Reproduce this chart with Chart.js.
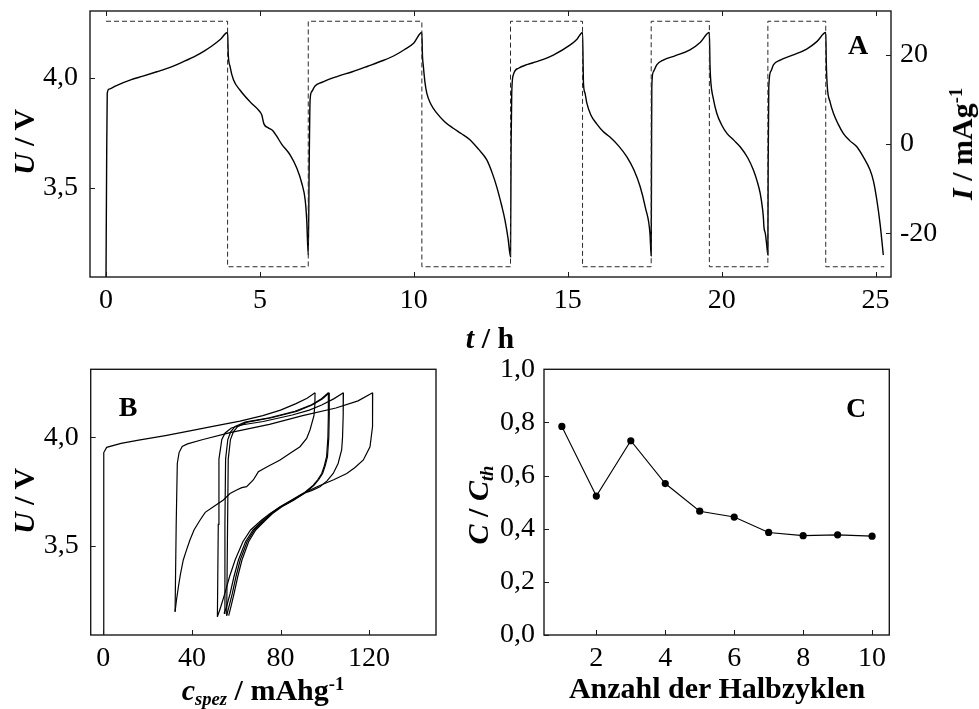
<!DOCTYPE html>
<html>
<head>
<meta charset="utf-8">
<script src="https://cdn.jsdelivr.net/npm/chart.js@4.4.1/dist/chart.umd.min.js"></script>
<style>
  body { margin: 0; background: #fff; }
  #fig { position: relative; width: 979px; height: 709px; overflow: hidden;
         font-family: 'Liberation Serif', 'Times New Roman', serif; color: #000; }
  #fig canvas { position: absolute; }
  .lbl { position: absolute; white-space: nowrap; line-height: 1; font-weight: bold;
         transform: translate(-50%, -50%); }
  .rot { transform: translate(-50%, -50%) rotate(-90deg); }
  .sub { font-size: 0.62em; position: relative; top: 0.28em; }
  .sup { font-size: 0.62em; position: relative; top: -0.55em; }
</style>
</head>
<body>
<div id="fig">
  <canvas id="cA" width="979" height="340" style="left:0;top:0"></canvas>
  <canvas id="cB" width="470" height="369" style="left:0;top:340px"></canvas>
  <canvas id="cC" width="509" height="369" style="left:470px;top:340px"></canvas>

  <div class="lbl rot" style="left:24px;top:142px;font-size:30px"><i>U</i> / V</div>
  <div class="lbl rot" style="left:962px;top:144px;font-size:30px"><i>I</i> / mAg<span class="sup">-1</span></div>
  <div class="lbl" style="left:490px;top:338px;font-size:30px"><i>t</i> / h</div>
  <div class="lbl" style="left:858px;top:45px;font-size:28px">A</div>

  <div class="lbl rot" style="left:24px;top:501px;font-size:30px"><i>U</i> / V</div>
  <div class="lbl" style="left:263px;top:690px;font-size:30px"><i>c<span class="sub">spez</span></i> / mAhg<span class="sup">-1</span></div>
  <div class="lbl" style="left:128px;top:407px;font-size:28px">B</div>

  <div class="lbl rot" style="left:478px;top:505px;font-size:30px"><i>C</i> / <i>C<span class="sub">th</span></i></div>
  <div class="lbl" style="left:717px;top:688px;font-size:30px">Anzahl der Halbzyklen</div>
  <div class="lbl" style="left:856px;top:408px;font-size:28px">C</div>
</div>

<script>
// ---------- Panel A: cell voltage over time, [t / h, U / V] ----------
const aCharge1 = [[0,3.09],[0.02,3.6],[0.04,3.93],[0.1,3.948],[0.3,3.962],[0.8,3.99],[1.2,4.007],[1.65,4.027],[2.1,4.048],[2.5,4.072],[2.9,4.098],[3.2,4.122],[3.45,4.145],[3.7,4.172],[3.95,4.205]];
const aDischarge1 = [[3.97,4.11],[4.03,4.05],[4.14,3.99],[4.35,3.944],[4.68,3.89],[5.0,3.845],[5.06,3.83],[5.13,3.79],[5.27,3.772],[5.42,3.759],[5.54,3.735],[5.71,3.697],[5.98,3.649],[6.2,3.588],[6.36,3.52],[6.47,3.444],[6.52,3.353],[6.57,3.194]];
const aCharge2 = [[6.6,3.6],[6.63,3.9],[6.68,3.936],[6.79,3.962],[7.0,3.978],[7.5,4.005],[8.0,4.027],[8.5,4.052],[9.0,4.078],[9.4,4.103],[9.7,4.128],[10.0,4.158],[10.26,4.205]];
const aDischarge2 = [[10.28,4.1],[10.31,4.05],[10.36,3.98],[10.42,3.93],[10.55,3.88],[10.74,3.84],[11.0,3.8],[11.28,3.77],[11.55,3.745],[11.83,3.717],[12.1,3.675],[12.37,3.626],[12.55,3.565],[12.69,3.505],[12.85,3.42],[12.96,3.353],[13.06,3.27],[13.14,3.186]];
const aCharge3 = [[13.16,3.7],[13.18,3.93],[13.23,4.012],[13.4,4.043],[13.7,4.06],[13.99,4.073],[14.53,4.103],[15.08,4.149],[15.3,4.175],[15.48,4.205]];
const aDischarge3 = [[15.5,4.05],[15.51,3.975],[15.56,3.93],[15.62,3.884],[15.75,3.83],[15.94,3.79],[16.15,3.755],[16.37,3.73],[16.65,3.69],[16.92,3.64],[17.15,3.58],[17.35,3.505],[17.52,3.41],[17.67,3.293],[17.71,3.19]];
const aCharge4 = [[17.72,3.6],[17.73,3.96],[17.78,4.027],[17.89,4.058],[18.1,4.08],[18.5,4.1],[18.97,4.126],[19.3,4.16],[19.6,4.205]];
const aDischarge4 = [[19.62,4.06],[19.65,3.975],[19.72,3.91],[19.84,3.838],[20.0,3.785],[20.17,3.747],[20.4,3.715],[20.6,3.686],[20.85,3.635],[21.03,3.58],[21.15,3.53],[21.25,3.475],[21.33,3.4],[21.36,3.353],[21.37,3.325],[21.42,3.29],[21.47,3.23],[21.5,3.194]];
const aCharge5 = [[21.51,3.6],[21.53,3.96],[21.6,4.03],[21.68,4.058],[21.9,4.08],[22.3,4.102],[22.76,4.13],[23.1,4.165],[23.38,4.205]];
const aDischarge5 = [[23.4,4.06],[23.43,3.96],[23.52,3.89],[23.63,3.838],[23.78,3.79],[23.95,3.747],[24.15,3.715],[24.39,3.686],[24.6,3.64],[24.82,3.58],[24.93,3.53],[25.04,3.444],[25.15,3.33],[25.25,3.194]];

// applied specific current: switching times (h) and the level held from each time on (mA/g)
const switchTimes   = [0, 3.95, 6.57, 10.26, 13.14, 15.48, 17.71, 19.60, 21.50, 23.38, 25.28];
const currentLevels = [27.5, -27.5, 27.5, -27.5, 27.5, -27.5, 27.5, -27.5, 27.5, -27.5];

// ---------- Panel B: voltage over specific capacity, [c / mAh g^-1, U / V] ----------
const bCharge1 = [[0,3.09],[0.1,3.6],[0.3,3.93],[1.5,3.954],[8,3.972],[16.6,3.988],[28,4.008],[39.1,4.03],[50,4.052],[61.7,4.075],[72,4.1],[80,4.125],[87,4.155],[92,4.18],[95.6,4.205]];
const bDischarge1 = [[95.6,4.205],[95.5,4.15],[95.1,4.1],[93.3,4.034],[91.8,3.995],[88.8,3.957],[84,3.925],[79.8,3.896],[74,3.865],[70,3.842],[69,3.825],[67.7,3.804],[64.7,3.773],[62.5,3.769],[60.2,3.758],[57.2,3.742],[54.2,3.712],[49.7,3.681],[46,3.655],[43.7,3.62],[41,3.575],[39.1,3.528],[37.5,3.48],[36.1,3.436],[34.8,3.37],[33.9,3.313],[33,3.25],[32.4,3.198]];
const bCharge2 = [[32.4,3.198],[32.9,3.6],[33.4,3.88],[34.2,3.93],[35.6,3.958],[38,3.97],[45,3.99],[57.2,4.022],[75,4.06],[90,4.1],[105,4.135],[115,4.168],[121.6,4.205]];
const bDischarge2 = [[121.6,4.205],[121.6,4.12],[121.5,4.05],[120.4,3.957],[117.4,3.896],[113.5,3.86],[109.9,3.834],[104,3.805],[97,3.775],[90,3.742],[85,3.712],[79.8,3.681],[75,3.648],[71.5,3.62],[66.5,3.574],[63,3.52],[59.5,3.436],[57,3.36],[54.8,3.28],[53,3.22],[51.5,3.175]];
const bCharge3 = [[51.5,3.175],[51.9,3.6],[52.2,3.9],[53.5,3.99],[55,4.02],[57.8,4.043],[63,4.058],[72.2,4.073],[85.3,4.103],[93,4.125],[98.6,4.149],[104,4.177],[108.4,4.205]];
const bDischarge3 = [[108.4,4.205],[108.3,4.1],[108,4.0],[107.6,3.942],[106,3.88],[103.8,3.834],[101,3.8],[97.8,3.773],[94,3.755],[90.3,3.742],[85.2,3.71],[80,3.681],[75.6,3.65],[72.3,3.62],[67.6,3.574],[64.2,3.52],[61,3.436],[59,3.36],[57.2,3.28],[55.6,3.22],[54.5,3.19]];
const bCharge4 = [[54.5,3.19],[54.9,3.6],[55.2,3.9],[56.2,3.99],[57.5,4.025],[59.5,4.05],[64,4.07],[75,4.09],[86.5,4.12],[94,4.15],[98.5,4.178],[101.6,4.205]];
const bDischarge4 = [[101.6,4.205],[101.6,4.1],[101.4,4.0],[100.8,3.911],[99.8,3.87],[98.6,3.834],[96.8,3.805],[94.8,3.78],[92.5,3.76],[90.4,3.742],[85.4,3.71],[80.3,3.681],[76,3.65],[72.8,3.62],[68.2,3.574],[64.9,3.52],[61.8,3.436],[59.9,3.36],[58.2,3.28],[56.7,3.22],[55.7,3.18]];
const bCharge5 = [[55.7,3.18],[56.1,3.6],[56.4,3.9],[57.4,3.99],[58.7,4.025],[60.7,4.05],[65,4.07],[76,4.09],[87.5,4.12],[94.5,4.15],[99,4.178],[102,4.205]];
const bDischarge5 = [[102,4.205],[102,4.1],[101.8,4.0],[101.2,3.911],[100.2,3.87],[99,3.834],[97.2,3.805],[95.2,3.78],[92.9,3.76],[90.7,3.742],[85.7,3.71],[80.6,3.681],[76.4,3.65],[73.3,3.62],[68.8,3.574],[65.6,3.52],[62.6,3.436],[60.7,3.36],[59,3.28],[57.6,3.22],[56.6,3.18]];

// ---------- Panel C: capacity ratio per half cycle ----------
const halfCycles = [1, 2, 3, 4, 5, 6, 7, 8, 9, 10];
const capacityRatio = [0.785, 0.523, 0.731, 0.570, 0.466, 0.444, 0.386, 0.374, 0.377, 0.372];

// ---------- tick values ----------
const ticksTime = [0, 5, 10, 15, 20, 25];
const ticksVolt = [3.5, 4.0];
const ticksCurrent = [-20, 0, 20];
const ticksCap = [0, 40, 80, 120];
const ticksCycle = [2, 4, 6, 8, 10];
const ticksRatio = [0, 0.2, 0.4, 0.6, 0.8, 1.0];

const SERIF = "'Liberation Serif', 'Times New Roman', serif";
Chart.defaults.font.family = SERIF;
Chart.defaults.color = '#000';

const pts = arr => arr.map(([x, y]) => ({ x, y }));
const fmt = (v, dec) => Number(v).toFixed(dec).replace('.', ',');

// plot frame plus short tick marks pointing into the plot
const frameTicks = {
  id: 'frameTicks',
  afterDraw(chart, args, opts) {
    const { ctx, chartArea: a } = chart;
    ctx.save();
    ctx.strokeStyle = '#1a1a1a';
    ctx.lineWidth = 1.4;
    ctx.strokeRect(a.left, a.top, a.right - a.left, a.bottom - a.top);
    ctx.lineWidth = 1;
    const L = 5;
    for (const id of Object.keys(chart.scales)) {
      const s = chart.scales[id];
      s.ticks.forEach(t => {
        const p = Math.round(s.getPixelForValue(t.value)) + 0.5;
        ctx.beginPath();
        if (s.isHorizontal()) {
          ctx.moveTo(p, a.bottom); ctx.lineTo(p, a.bottom - L);
          if (opts.mirrorX) { ctx.moveTo(p, a.top); ctx.lineTo(p, a.top + L); }
        } else if (s.position === 'left') {
          ctx.moveTo(a.left, p); ctx.lineTo(a.left + L, p);
        } else {
          ctx.moveTo(a.right, p); ctx.lineTo(a.right - L, p);
        }
        ctx.stroke();
      });
    }
    ctx.restore();
  }
};

function linAxis(c) {
  return {
    type: 'linear', position: c.pos, min: c.min, max: c.max,
    grid: { display: false, drawTicks: false },
    border: { display: false },
    ticks: { padding: c.pad, font: { size: 28, family: SERIF }, color: '#000',
             autoSkip: false, maxRotation: 0, callback: v => fmt(v, c.dec) },
    afterBuildTicks: s => { s.ticks = c.ticks.map(v => ({ value: v })); },
    afterFit: s => {
      // fixed axis band; labels may overhang the plot edges freely
      if (s.isHorizontal()) { s.height = c.size; s.paddingLeft = 0; s.paddingRight = 0; }
      else { s.width = c.size; s.paddingTop = 0; s.paddingBottom = 0; }
    }
  };
}

const baseOpts = (padding, scales, plug) => ({
  responsive: false, animation: false, devicePixelRatio: 1, events: [],
  layout: { padding },
  plugins: { legend: { display: false }, tooltip: { enabled: false }, frameTicks: plug || {} },
  scales
});

// ---- Panel A ----
const currentPath = [];
for (let i = 0; i < currentLevels.length; i++) {
  currentPath.push({ x: switchTimes[i], y: currentLevels[i] });
  currentPath.push({ x: switchTimes[i + 1], y: currentLevels[i] });
}
const voltA = [...aCharge1, ...aDischarge1, ...aCharge2, ...aDischarge2, ...aCharge3,
               ...aDischarge3, ...aCharge4, ...aDischarge4, ...aCharge5, ...aDischarge5];

new Chart(document.getElementById('cA'), {
  type: 'scatter',
  data: { datasets: [
    { data: currentPath, yAxisID: 'yI', showLine: true, pointRadius: 0, tension: 0,
      borderColor: '#2a2a2a', borderWidth: 1, borderDash: [5, 3] },
    { data: pts(voltA), yAxisID: 'yU', showLine: true, pointRadius: 0,
      cubicInterpolationMode: 'monotone', borderColor: '#000', borderWidth: 1.4 }
  ] },
  options: baseOpts({ top: 11, left: 0, right: 0, bottom: 0 }, {
    x:  linAxis({ pos: 'bottom', min: -0.52, max: 25.5, ticks: ticksTime, dec: 0, pad: 7, size: 63 }),
    yU: linAxis({ pos: 'left', min: 3.094, max: 4.303, ticks: ticksVolt, dec: 1, pad: 12, size: 90 }),
    yI: linAxis({ pos: 'right', min: -29.8, max: 29.8, ticks: ticksCurrent, dec: 0, pad: 9, size: 88 })
  }, { mirrorX: true }),
  plugins: [frameTicks]
});

// ---- Panel B ----
const bSets = [bCharge1, bDischarge1, bCharge2, bDischarge2, bCharge3,
               bDischarge3, bCharge4, bDischarge4, bCharge5, bDischarge5];
new Chart(document.getElementById('cB'), {
  type: 'scatter',
  data: { datasets: bSets.map(s => ({ data: pts(s), showLine: true, pointRadius: 0, tension: 0,
                                       borderColor: '#000', borderWidth: 1.2 })) },
  options: baseOpts({ top: 29.3, left: 0, right: 34, bottom: 0 }, {
    x: linAxis({ pos: 'bottom', min: -5.7, max: 150.2, ticks: ticksCap, dec: 0, pad: 7, size: 74 }),
    y: linAxis({ pos: 'left', min: 3.091, max: 4.313, ticks: ticksVolt, dec: 1, pad: 12, size: 90.7 })
  }),
  plugins: [frameTicks]
});

// ---- Panel C ----
new Chart(document.getElementById('cC'), {
  type: 'scatter',
  data: { datasets: [{
    data: halfCycles.map((n, i) => ({ x: n, y: capacityRatio[i] })),
    showLine: true, tension: 0, borderColor: '#000', borderWidth: 1.1,
    pointRadius: 3.6, pointBackgroundColor: '#000', pointBorderWidth: 0
  }] },
  options: baseOpts({ top: 29.3, left: 0, right: 89.7, bottom: 0 }, {
    x: linAxis({ pos: 'bottom', min: 0.482, max: 10.5, ticks: ticksCycle, dec: 0, pad: 7, size: 74 }),
    y: linAxis({ pos: 'left', min: 0, max: 1.0, ticks: ticksRatio, dec: 1, pad: 9, size: 74 })
  }),
  plugins: [frameTicks]
});
</script>
</body>
</html>
